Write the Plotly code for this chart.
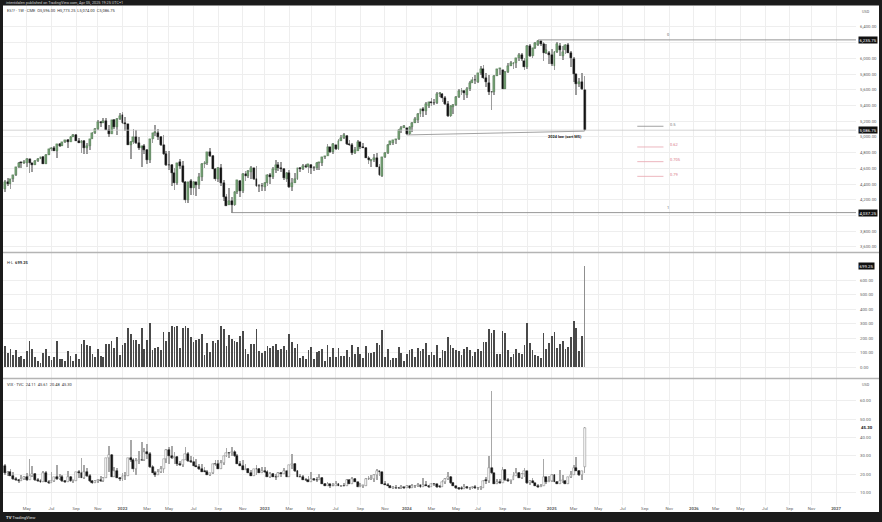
import pandas as pd
import numpy as np
import plotly.graph_objects as go

# ---------------- ES1! weekly (back-adjusted, CME) ----------------
ES_OPEN = [4334, 4433, 4403, 4465, 4510, 4619, 4675, 4670, 4671, 4723, 4664, 4646,
           4699, 4725, 4742, 4661, 4776, 4847, 4865, 4822, 4907, 4890, 4932, 4963, 4937, 5004, 5030, 4954, 4928,
           4955, 4857, 4891, 4971, 5045, 5105, 5197, 5183, 5198, 5095, 5038, 5212, 5121, 5226,
           5278, 5177, 5163, 4898, 4937, 5006, 4924, 4854, 4890, 4834, 4709, 4968,
           5053, 5056, 4998, 4903, 4782, 4647, 4638, 4539, 4416, 4678, 4629, 4421, 4195,
           4437, 4350, 4424, 4388, 4487, 4660, 4675, 4810, 4758, 4598, 4464, 4607, 4413, 4233,
           4132, 4186, 4129, 4299, 4441, 4311, 4533, 4505, 4556, 4602, 4464, 4382, 4375,
           4360, 4415, 4519, 4493, 4581, 4646, 4600, 4589, 4470, 4545, 4362, 4417, 4471,
           4599, 4595, 4628, 4623, 4644, 4611, 4599, 4667, 4665, 4742, 4759, 4870, 4808,
           4895, 4844, 4950, 4981, 5012, 4908, 4894, 4800, 4821, 4931, 4872, 4865, 4735,
           4688, 4709, 4727, 4624, 4502, 4743, 4800, 4899, 4924, 4960, 4969, 5084, 5120,
           5114, 5041, 5128, 5184, 5221, 5289, 5357, 5336, 5399, 5447, 5434, 5427, 5544,
           5549, 5499, 5418, 5262, 5380, 5408, 5503, 5583, 5585, 5538, 5607, 5692, 5725,
           5705, 5812, 5860, 5750, 5684, 5572, 5569, 5779, 5859, 5853, 5613, 5831, 5908,
           5923, 5936, 6000, 6049, 5968, 5889, 6156, 6030, 6129, 6168, 6226, 6187, 6067,
           6071, 6042, 5907, 6077, 6160, 6025, 6101, 6170, 6068, 5998, 5800, 5669, 5697, 5596]
ES_HIGH = [4450, 4473, 4468, 4510, 4619, 4681, 4685, 4708, 4728, 4726, 4675, 4710,
           4729, 4744, 4757, 4781, 4851, 4867, 4889, 4910, 4925, 4937, 4963, 4975, 5008, 5040, 5044, 4981, 4960,
           4966, 4929, 4975, 5059, 5108, 5218, 5208, 5243, 5244, 5152, 5213, 5231, 5240, 5308,
           5318, 5249, 5165, 4953, 5101, 5095, 4995, 4890, 4907, 4850, 4970, 5051,
           5147, 5103, 5010, 5023, 4818, 4822, 4660, 4605, 4673, 4724, 4688, 4440, 4433,
           4471, 4443, 4432, 4537, 4665, 4697, 4810, 4855, 4770, 4610, 4617, 4659, 4447, 4273,
           4352, 4231, 4308, 4451, 4452, 4541, 4569, 4574, 4630, 4610, 4631, 4406, 4408,
           4427, 4524, 4536, 4615, 4705, 4686, 4686, 4600, 4548, 4578, 4481, 4539, 4610,
           4623, 4654, 4660, 4660, 4662, 4629, 4687, 4687, 4751, 4762, 4908, 4875, 4918,
           4901, 4972, 5023, 5052, 5025, 4957, 4920, 4878, 4956, 4935, 4926, 4877, 4753,
           4717, 4785, 4793, 4655, 4751, 4803, 4906, 4945, 4963, 4974, 5104, 5143, 5158,
           5120, 5146, 5186, 5250, 5305, 5361, 5378, 5441, 5450, 5499, 5489, 5571, 5575,
           5559, 5517, 5455, 5409, 5426, 5519, 5605, 5622, 5595, 5635, 5707, 5765, 5783,
           5815, 5900, 5914, 5811, 5791, 5583, 5786, 5868, 5876, 5857, 5841, 5938, 5972,
           5950, 6008, 6063, 6063, 6007, 6172, 6178, 6132, 6204, 6235.75, 6226, 6206, 6186,
           6093, 6121, 6094, 6208, 6190, 6156, 6182, 6202, 6098, 6016, 5805, 5745, 5816, 5773.25]
ES_LOW = [4304, 4375, 4343, 4427, 4500, 4608, 4608, 4650, 4618, 4547, 4552, 4640,
          4683, 4715, 4659, 4655, 4771, 4816, 4820, 4728, 4867, 4879, 4919, 4862, 4930, 4995, 4953, 4922, 4800,
          4778, 4778, 4829, 4969, 5037, 5095, 5130, 5172, 5085, 4995, 5032, 5100, 5031, 5220,
          5162, 5082, 4895, 4723, 4915, 4907, 4833, 4620, 4784, 4662, 4667, 4929,
          5016, 4960, 4891, 4777, 4635, 4578, 4374, 4325, 4390, 4594, 4415, 4157, 4160,
          4263, 4267, 4246, 4344, 4436, 4609, 4642, 4748, 4587, 4446, 4426, 4377, 4187, 4124,
          4130, 4037.25, 4125, 4279, 4238, 4291, 4446, 4483, 4470, 4449, 4368, 4295, 4313,
          4315, 4380, 4406, 4470, 4547, 4570, 4557, 4453, 4428, 4347, 4309, 4409, 4451,
          4559, 4576, 4604, 4539, 4523, 4573, 4584, 4578, 4627, 4720, 4753, 4801, 4788,
          4830, 4839, 4944, 4973, 4904, 4888, 4765, 4786, 4818, 4846, 4861, 4731, 4653,
          4616, 4683, 4623, 4504, 4495, 4729, 4778, 4892, 4902, 4911, 4962, 5047, 5116,
          5026, 5026, 5058, 5180, 5175, 5248, 5250, 5276, 5367, 5395, 5401, 5415, 5514,
          5442, 5402, 5248, 5255, 5292, 5400, 5491, 5537, 5471, 5494, 5591, 5688, 5680,
          5690, 5791, 5742, 5635, 5531, 5344, 5531, 5775, 5786, 5607, 5605, 5820, 5900,
          5859, 5881, 5967, 5969, 5857, 5867, 6013, 6010, 6117, 6157, 6161, 5969, 6060,
          5925, 5909, 5853, 6073, 6032, 5978, 6058, 6064, 5892, 5696, 5535, 5632, 5602, 5074.00]
ES_CLOSE = [4433, 4403, 4465, 4510, 4619, 4675, 4670, 4671, 4723, 4664, 4646, 4694,
            4725, 4742, 4661, 4776, 4847, 4865, 4822, 4907, 4890, 4932, 4963, 4937, 5004, 5030, 4954, 4928, 4950,
            4857, 4891, 4971, 5045, 5105, 5197, 5183, 5198, 5095, 5038, 5212, 5121, 5226, 5266,
            5177, 5163, 4898, 4932, 5006, 4924, 4854, 4890, 4834, 4709, 4968, 5048,
            5056, 4998, 4903, 4782, 4642, 4638, 4539, 4416, 4673, 4629, 4421, 4195, 4432,
            4350, 4424, 4388, 4487, 4655, 4675, 4810, 4758, 4588, 4464, 4607, 4413, 4233, 4126,
            4186, 4129, 4299, 4447, 4311, 4533, 4505, 4566, 4602, 4464, 4382, 4375, 4370,
            4415, 4519, 4493, 4591, 4646, 4600, 4589, 4480, 4545, 4362, 4417, 4471, 4609,
            4595, 4628, 4623, 4659, 4611, 4599, 4667, 4680, 4742, 4759, 4870, 4808, 4910,
            4844, 4950, 4981, 5027, 4908, 4894, 4800, 4836, 4931, 4872, 4865, 4735, 4703,
            4709, 4727, 4624, 4517, 4743, 4800, 4899, 4944, 4960, 4969, 5084, 5120, 5135,
            5041, 5128, 5184, 5235, 5289, 5357, 5336, 5419, 5447, 5434, 5427, 5544, 5564,
            5499, 5418, 5262, 5395, 5408, 5503, 5583, 5585, 5558, 5607, 5692, 5725, 5720,
            5812, 5860, 5750, 5704, 5572, 5569, 5779, 5859, 5873, 5613, 5831, 5908, 5943,
            5936, 6000, 6049, 5993, 5889, 6156, 6030, 6129, 6192, 6226, 6187, 6067, 6107,
            6042, 5927, 6077, 6181, 6111, 6081, 6170, 6068, 6010, 5800, 5669, 5697, 5611, 5086.75]

# ---------------- VIX weekly (TVC) ----------------
VIX_OPEN = [24.7, 20.7, 21.0, 18.9, 17.3, 17.0, 16.3, 17.3, 18.6, 16.7, 18.8, 20.2,
            16.8, 16.4, 15.7, 20.7, 15.6, 15.1, 16.2, 18.5, 17.2, 18.2, 16.2, 15.5, 18.6, 16.4, 16.4, 21.0, 20.8,
            17.8, 21.2, 18.8, 16.3, 15.4, 16.3, 16.5, 16.3, 17.9, 28.6, 30.7, 18.7, 21.6, 18.0,
            17.2, 18.8, 19.2, 28.9, 27.7, 23.0, 27.4, 27.8, 27.6, 32.0, 30.8, 23.9,
            20.8, 19.6, 21.2, 22.7, 28.2, 33.4, 30.2, 28.9, 29.4, 25.7, 24.8, 27.8, 31.1,
            27.2, 26.7, 24.6, 24.2, 23.0, 21.3, 21.2, 19.5, 20.6, 25.6, 25.5, 22.8, 26.3, 29.9,
            31.6, 31.4, 32.0, 29.7, 25.8, 24.6, 22.5, 23.1, 20.5, 19.1, 22.8, 22.6, 20.9,
            21.7, 21.1, 18.4, 19.9, 18.5, 18.3, 20.5, 20.0, 21.7, 18.5, 24.8, 25.5, 21.7,
            18.7, 18.4, 17.1, 16.8, 15.8, 17.2, 17.0, 16.8, 18.0, 14.6, 13.8, 14.4, 13.4,
            13.6, 14.8, 13.3, 13.6, 13.3, 17.1, 14.8, 17.3, 15.7, 13.1, 13.8, 13.8, 17.2,
            17.5, 17.5, 19.3, 21.7, 21.3, 14.9, 14.2, 13.8, 12.5, 12.6, 12.4, 12.3, 13.0,
            12.5, 13.4, 12.7, 13.3, 13.3, 13.9, 12.9, 14.2, 13.8, 13.1, 14.7, 14.4, 13.1,
            13.0, 16.0, 17.3, 18.7, 15.0, 13.5, 12.6, 12.0, 11.9, 12.9, 12.2, 12.7, 13.2,
            12.4, 12.5, 12.5, 16.5, 16.4, 23.4, 20.4, 14.8, 15.9, 15.0, 22.4, 16.6, 16.2,
            17.0, 19.2, 20.5, 18.0, 20.3, 21.9, 15.2, 16.1, 15.2, 13.5, 12.8, 13.8, 18.4,
            16.0, 16.1, 19.5, 16.0, 14.9, 16.4, 16.5, 14.8, 18.2, 19.6, 23.4, 21.8, 19.3, 24.11]
VIX_HIGH = [25.3, 22.0, 23.0, 21.0, 18.4, 17.5, 19.7, 18.9, 20.7, 28.4, 24.3, 20.6,
            18.0, 17.4, 21.6, 21.6, 16.8, 21.0, 18.5, 25.1, 19.9, 19.7, 16.9, 22.0, 18.9, 16.9, 21.3, 22.4, 28.8,
            25.0, 23.4, 20.3, 16.6, 17.1, 17.5, 19.1, 18.5, 28.9, 35.3, 30.8, 24.0, 23.6, 18.7,
            20.8, 21.1, 29.1, 38.9, 28.6, 28.8, 32.4, 37.8, 34.4, 36.5, 32.0, 25.1,
            21.5, 23.0, 24.4, 28.5, 34.0, 34.8, 35.4, 32.0, 29.7, 27.0, 28.0, 35.1, 32.0,
            30.1, 29.3, 28.2, 25.4, 25.7, 24.0, 22.1, 20.8, 25.6, 27.8, 27.5, 27.5, 30.2, 34.5,
            32.2, 34.9, 33.4, 31.1, 27.3, 27.5, 25.7, 23.3, 22.5, 23.0, 25.0, 23.3, 23.8,
            23.8, 22.5, 21.0, 20.4, 20.0, 21.1, 21.0, 23.2, 21.9, 24.8, 30.8, 26.0, 22.2,
            19.9, 19.8, 17.8, 19.2, 21.1, 18.1, 18.4, 20.2, 18.3, 15.2, 15.5, 14.9, 15.0,
            16.1, 15.3, 14.3, 15.0, 17.5, 17.3, 18.2, 17.8, 15.8, 15.2, 14.3, 17.8, 19.2,
            19.4, 19.9, 22.6, 22.0, 21.3, 16.5, 15.0, 14.0, 13.4, 14.2, 13.2, 14.0, 13.2,
            14.3, 13.8, 14.8, 13.9, 15.4, 14.0, 17.9, 16.1, 14.2, 15.0, 15.2, 14.6, 13.6,
            16.9, 17.9, 21.4, 18.9, 15.9, 13.7, 13.1, 13.3, 14.5, 13.7, 12.9, 13.3, 13.9,
            12.9, 13.3, 16.9, 18.5, 29.7, 65.7, 20.9, 17.2, 17.6, 23.8, 22.8, 18.1, 17.0,
            21.0, 23.2, 21.0, 20.4, 23.2, 22.0, 16.6, 17.9, 15.3, 14.7, 14.7, 28.3, 18.5,
            19.0, 19.9, 20.3, 16.2, 22.5, 19.8, 17.0, 18.2, 21.5, 24.9, 29.6, 22.4, 22.0, 45.61]
VIX_LOW = [19.6, 19.0, 18.8, 17.1, 16.4, 15.4, 16.2, 16.9, 16.3, 16.7, 18.7, 16.2,
           15.9, 15.4, 15.7, 15.5, 14.8, 15.1, 15.6, 16.9, 16.8, 16.0, 15.3, 15.5, 15.9, 15.4, 16.3, 17.9, 17.8,
           17.6, 18.6, 16.0, 14.9, 15.2, 15.0, 15.9, 15.6, 17.7, 21.0, 18.6, 18.6, 17.9, 16.3,
           16.1, 16.9, 19.0, 26.4, 21.1, 19.6, 25.6, 27.2, 27.1, 28.1, 23.6, 20.6,
           18.6, 19.5, 20.4, 20.7, 26.2, 25.3, 28.3, 25.5, 24.7, 24.4, 23.7, 27.7, 26.9,
           26.2, 24.3, 23.8, 22.3, 21.0, 21.1, 19.4, 18.9, 20.2, 24.6, 22.7, 22.6, 25.2, 29.2,
           28.8, 30.0, 29.4, 25.4, 24.5, 22.4, 22.5, 20.4, 19.0, 19.0, 19.7, 20.5, 20.6,
           20.9, 18.2, 18.0, 18.5, 17.1, 18.3, 18.2, 20.0, 18.5, 18.3, 22.8, 21.4, 18.6,
           18.2, 16.7, 16.3, 15.8, 15.6, 16.3, 15.9, 16.8, 14.6, 13.5, 13.5, 12.7, 13.3,
           13.5, 13.3, 13.2, 13.3, 13.3, 14.8, 14.8, 15.6, 13.0, 13.0, 12.7, 13.6, 17.0,
           16.7, 15.9, 17.0, 18.8, 14.8, 14.2, 13.6, 12.5, 12.4, 12.1, 11.8, 12.1, 11.8,
           12.5, 12.1, 12.7, 12.4, 12.9, 12.5, 12.8, 13.4, 12.6, 12.9, 13.4, 12.7, 12.6,
           13.0, 14.9, 17.0, 14.8, 13.3, 12.1, 11.5, 11.6, 11.8, 11.9, 11.9, 11.9, 11.9,
           11.9, 11.5, 12.2, 14.9, 15.0, 19.9, 14.7, 14.7, 14.7, 15.0, 16.4, 15.9, 14.9,
           16.6, 19.0, 17.9, 17.6, 18.7, 14.9, 13.9, 15.2, 13.5, 12.7, 12.8, 13.6, 14.5,
           15.7, 15.5, 15.8, 14.6, 14.9, 15.0, 14.6, 14.8, 18.1, 19.6, 21.6, 19.0, 17.1, 20.48]
VIX_CLOSE = [20.7, 21.0, 18.9, 17.3, 17.0, 16.3, 17.3, 18.6, 16.7, 18.8, 20.2, 16.8,
             16.4, 15.7, 20.7, 15.6, 15.1, 16.2, 18.5, 17.2, 18.2, 16.2, 15.5, 18.6, 16.4, 16.4, 21.0, 20.8, 17.8,
             21.2, 18.8, 16.3, 15.4, 16.3, 16.5, 16.3, 17.9, 28.6, 30.7, 18.7, 21.6, 18.0, 17.2,
             18.8, 19.2, 28.9, 27.7, 23.0, 27.4, 27.8, 27.6, 32.0, 30.8, 23.9, 20.8,
             19.6, 21.2, 22.7, 28.2, 33.4, 30.2, 28.9, 29.4, 25.7, 24.8, 27.8, 31.1, 27.2,
             26.7, 24.6, 24.2, 23.0, 21.3, 21.2, 19.5, 20.6, 25.6, 25.5, 22.8, 26.3, 29.9, 31.6,
             31.4, 32.0, 29.7, 25.8, 24.6, 22.5, 23.1, 20.5, 19.1, 22.8, 22.6, 20.9, 21.7,
             21.1, 18.4, 19.9, 18.5, 18.3, 20.5, 20.0, 21.7, 18.5, 24.8, 25.5, 21.7, 18.7,
             18.4, 17.1, 16.8, 15.8, 17.2, 17.0, 16.8, 18.0, 14.6, 13.8, 14.4, 13.4, 13.6,
             14.8, 13.3, 13.6, 13.3, 17.1, 14.8, 17.3, 15.7, 13.1, 13.8, 13.8, 17.2, 17.5,
             17.5, 19.3, 21.7, 21.3, 14.9, 14.2, 13.8, 12.5, 12.6, 12.4, 12.3, 13.0, 12.5,
             13.4, 12.7, 13.3, 13.3, 13.9, 12.9, 14.2, 13.8, 13.1, 14.7, 14.4, 13.1, 13.0,
             16.0, 17.3, 18.7, 15.0, 13.5, 12.6, 12.0, 11.9, 12.9, 12.2, 12.7, 13.2, 12.4,
             12.5, 12.5, 16.5, 16.4, 23.4, 20.4, 14.8, 15.9, 15.0, 22.4, 16.6, 16.2, 17.0,
             19.2, 20.5, 18.0, 20.3, 21.9, 15.2, 16.1, 15.2, 13.5, 12.8, 13.8, 18.4, 16.0,
             16.1, 19.5, 16.0, 14.9, 16.4, 16.5, 14.8, 18.2, 19.6, 23.4, 21.8, 19.3, 21.7, 45.30]

PRICE_TICKS = [3600, 3800, 4000, 4200, 4400, 4600, 4800, 5000, 5200, 5400, 5600, 5800, 6000, 6200, 6400]
PRICE_HIDDEN = [4000, 6200]          # covered by the price boxes
RANGE_TICKS = [0, 100, 200, 300, 400, 500, 600]
VIX_TICKS = [10, 20, 30, 40, 50, 60]
FIB_LEVELS = [0.5, 0.62, 0.705, 0.79]
FIB_0 = 6235.75
FIB_1 = 4037.25
LAST_PRICE = 5086.75
LOW_2024 = 5026

n = len(ES_CLOSE)
weeks = pd.date_range("2021-03-08", periods=n, freq="7D")

W, H = 882, 522
def fx(p): return p / W
def fy(p): return 1 - p / H

DAY = 86400000
x_start = pd.Timestamp("2021-03-03")
x_end = pd.Timestamp("2027-02-24")

es_o, es_h, es_l, es_c = map(np.array, (ES_OPEN, ES_HIGH, ES_LOW, ES_CLOSE))
vx_o, vx_h, vx_l, vx_c = map(np.array, (VIX_OPEN, VIX_HIGH, VIX_LOW, VIX_CLOSE))

fig = go.Figure()

# --- price pane: wicks then bodies
fig.add_trace(go.Bar(x=weeks, base=es_l, y=es_h - es_l, width=2.0 * DAY,
                     marker=dict(color="#9c9c9c", line=dict(width=0)),
                     xaxis="x", yaxis="y", hoverinfo="skip"))
es_up = es_c >= es_o
es_lo = np.minimum(es_o, es_c)
es_bh = np.maximum(np.abs(es_c - es_o), 6)
fig.add_trace(go.Bar(x=weeks, base=es_lo, y=es_bh, width=5.0 * DAY,
                     marker=dict(color=np.where(es_up, "#74a274", "#141414"),
                                 line=dict(color=np.where(es_up, "#4b724b", "#141414"), width=0.4)),
                     xaxis="x", yaxis="y", hoverinfo="skip"))

# --- weekly range pane (high - low)
rng_cols = ["#4a4a4a"] * (n - 1) + ["#8f8f8f"]
fig.add_trace(go.Bar(x=weeks, y=es_h - es_l, width=2.0 * DAY,
                     marker=dict(color=rng_cols, line=dict(width=0)),
                     xaxis="x", yaxis="y2", hoverinfo="skip"))

# --- VIX pane
fig.add_trace(go.Bar(x=weeks, base=vx_l, y=vx_h - vx_l, width=2.0 * DAY,
                     marker=dict(color="#a8a8a8", line=dict(width=0)),
                     xaxis="x", yaxis="y3", hoverinfo="skip"))
vx_up = vx_c >= vx_o
vx_lo = np.minimum(vx_o, vx_c)
vx_bh = np.maximum(np.abs(vx_c - vx_o), 0.3)
fig.add_trace(go.Bar(x=weeks, base=vx_lo, y=vx_bh, width=5.0 * DAY,
                     marker=dict(color=np.where(vx_up, "#ffffff", "#141414"),
                                 line=dict(color=np.where(vx_up, "#7a7a7a", "#141414"), width=0.5)),
                     xaxis="x", yaxis="y3", hoverinfo="skip"))

# --- time ticks: first weekly bar of every 2nd month
tick_vals, tick_text = [], []
for m in pd.date_range("2021-05-01", "2027-01-01", freq="2MS"):
    d = m + pd.Timedelta(days=(7 - m.weekday()) % 7)
    tick_vals.append(d)
    tick_text.append(f"<b>{m.year}</b>" if m.month == 1 else m.strftime("%b"))

def fmt(v):
    return f"{v:,.2f}"

grid = "#eeeeee"
axis_font = dict(size=4.3, color="#5f5f5f")

shapes = [
    dict(type="rect", xref="paper", yref="paper", x0=fx(3), x1=fx(879), y0=fy(512), y1=fy(5.5),
         fillcolor="white", line=dict(width=0), layer="below"),
    # pane separators
    dict(type="line", xref="paper", yref="paper", x0=fx(3), x1=fx(879), y0=fy(252.5), y1=fy(252.5),
         line=dict(color="#b4b4b4", width=1.4)),
    dict(type="line", xref="paper", yref="paper", x0=fx(3), x1=fx(879), y0=fy(378.5), y1=fy(378.5),
         line=dict(color="#b4b4b4", width=1.4)),
    # last price line
    dict(type="line", xref="x", yref="y", x0=x_start, x1=x_end, y0=LAST_PRICE, y1=LAST_PRICE,
         line=dict(color="#c9c9c9", width=0.8)),
    # fib 0 and 1
    dict(type="line", xref="x", yref="y", x0=weeks[195], x1=x_end, y0=FIB_0, y1=FIB_0,
         line=dict(color="#8a8a8a", width=0.9)),
    dict(type="line", xref="x", yref="y", x0=weeks[83], x1=x_end, y0=FIB_1, y1=FIB_1,
         line=dict(color="#8a8a8a", width=0.9)),
    # trend line from 2024 low
    dict(type="line", xref="x", yref="y", x0=weeks[147], x1=weeks[n - 1], y0=LOW_2024, y1=ES_LOW[-1],
         line=dict(color="#8a8a8a", width=0.8)),
]

annotations = []
fib_x0, fib_x1, fib_lab = pd.Timestamp("2025-08-13"), pd.Timestamp("2025-10-19"), pd.Timestamp("2025-10-30")
for lv in FIB_LEVELS:
    price = FIB_0 - lv * (FIB_0 - FIB_1)
    col = "#8a8a8a" if lv == 0.5 else "#e7a3ad"
    tcol = "#7a7a7a" if lv == 0.5 else "#d9788a"
    shapes.append(dict(type="line", xref="x", yref="y", x0=fib_x0, x1=fib_x1, y0=price, y1=price,
                       line=dict(color=col, width=0.8)))
    annotations.append(dict(x=fib_lab, y=price, xref="x", yref="y", text=f"{lv:g}", showarrow=False,
                            xanchor="left", yanchor="middle", yshift=2, font=dict(size=4, color=tcol)))
for lv, price in ((0, FIB_0), (1, FIB_1)):
    annotations.append(dict(x=pd.Timestamp("2025-10-31"), y=price, xref="x", yref="y", text=str(lv),
                            showarrow=False, yanchor="bottom", yshift=1, font=dict(size=4, color="#6a6a6a")))

annotations.append(dict(x=weeks[n - 1], y=ES_LOW[-1], xref="x", yref="y", text="<b>2024 low (sort M5)</b>",
                        showarrow=False, xanchor="right", yanchor="top", xshift=-1, yshift=-1,
                        font=dict(size=3.9, color="#222")))

# price boxes
for v in (FIB_0, LAST_PRICE, FIB_1):
    annotations.append(dict(x=fx(857.5), y=v, xref="paper", yref="y", text=fmt(v), showarrow=False,
                            xanchor="left", yanchor="middle", bgcolor="#111111", borderpad=0.6,
                            font=dict(size=4.3, color="white")))
annotations.append(dict(x=fx(857.5), y=699.25, xref="paper", yref="y2", text="699.25", showarrow=False,
                        xanchor="left", yanchor="middle", bgcolor="#111111", borderpad=0.6,
                        font=dict(size=4.3, color="white")))
annotations.append(dict(x=fx(859), y=45.30, xref="paper", yref="y3", text="<b>45.30</b>", showarrow=False,
                        xanchor="left", yanchor="middle", font=dict(size=4.3, color="#111")))
for ypx in (12, 384):
    annotations.append(dict(x=fx(866), y=fy(ypx), xref="paper", yref="paper", text="USD", showarrow=False,
                            xanchor="center", yanchor="middle", font=dict(size=3.8, color="#5f5f5f")))

# pane legends
annotations += [
    dict(x=fx(5), y=fy(11), xref="paper", yref="paper", showarrow=False, xanchor="left", yanchor="middle",
         text="ES1! · 1W · CME  O5,596.00  H5,773.25  L5,074.00  C5,086.75", font=dict(size=4, color="#333")),
    dict(x=fx(5), y=fy(262), xref="paper", yref="paper", showarrow=False, xanchor="left", yanchor="middle",
         text="H-L  <b>699.25</b>", font=dict(size=4, color="#333")),
    dict(x=fx(5), y=fy(384), xref="paper", yref="paper", showarrow=False, xanchor="left", yanchor="middle",
         text="VIX · TVC  24.11  45.61  20.48  45.30", font=dict(size=4, color="#333")),
    dict(x=fx(4), y=fy(2.7), xref="paper", yref="paper", showarrow=False, xanchor="left", yanchor="middle",
         text="intentdalen published on TradingView.com, Apr 05, 2025 19:25 UTC+1",
         font=dict(size=3.8, color="#d0d0d0")),
    dict(x=fx(4), y=fy(517), xref="paper", yref="paper", showarrow=False, xanchor="left", yanchor="middle",
         text="<b>TV</b> TradingView", font=dict(size=4.2, color="#e0e0e0")),
]

common_y = dict(side="right", anchor="x", showgrid=True, gridcolor=grid, gridwidth=0.6, zeroline=False,
                ticks="", tickfont=axis_font, ticklabelstandoff=3, automargin=False, showline=False)

fig.update_layout(
    template="none",
    width=W, height=H, margin=dict(l=0, r=0, t=0, b=0, pad=0, autoexpand=False),
    paper_bgcolor="#1b1b1b", plot_bgcolor="white",
    showlegend=False, barmode="overlay", bargap=0,
    font=dict(family="Roboto, Inter, sans-serif", size=4.3, color="#5f5f5f"),
    shapes=shapes, annotations=annotations,
    xaxis=dict(domain=[fx(3), fx(856)], range=[x_start, x_end], anchor="y3", type="date",
               tickvals=tick_vals, ticktext=tick_text, showgrid=True, gridcolor=grid, gridwidth=0.6,
               zeroline=False, showline=False, ticks="", tickfont=axis_font, automargin=False,
               rangeslider=dict(visible=False), fixedrange=True),
    yaxis=dict(domain=[fy(252), fy(6)], range=[3536, 6667],
               tickvals=PRICE_TICKS, ticktext=["" if v in PRICE_HIDDEN else fmt(v) for v in PRICE_TICKS],
               **common_y),
    yaxis2=dict(domain=[fy(378), fy(253)], range=[-73.5, 785.6],
                tickvals=RANGE_TICKS, ticktext=[fmt(v) for v in RANGE_TICKS], **common_y),
    yaxis3=dict(domain=[fy(505), fy(379)], range=[3.17, 72.0],
                tickvals=VIX_TICKS, ticktext=[fmt(v) for v in VIX_TICKS], **common_y),
)

fig.write_html(
    "out.html",
    config={"displayModeBar": False},
    post_script="document.body.style.margin='0';document.body.style.padding='0';"
                "document.body.style.background='#1b1b1b';document.body.style.overflow='hidden';",
)
